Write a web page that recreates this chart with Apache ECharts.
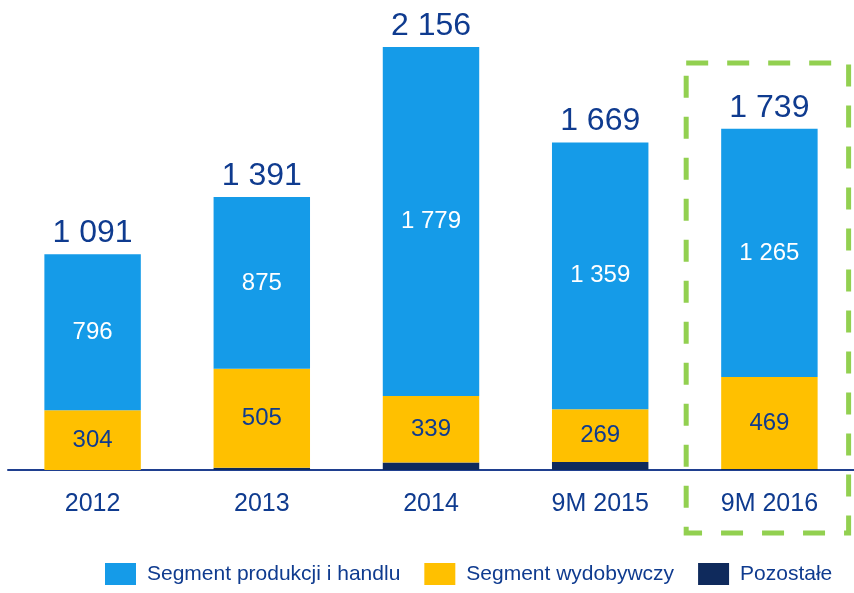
<!DOCTYPE html>
<html><head><meta charset="utf-8">
<script src="https://cdn.jsdelivr.net/npm/echarts@6/dist/echarts.min.js"></script>
<style>html,body{margin:0;padding:0;background:#fff}#c{width:854px;height:593px}</style>
</head><body><div id="c"></div>
<script>
const categories = ['2012', '2013', '2014', '9M 2015', '9M 2016'];
const pozostale = [0, 11, 38, 41, 5];
const wydobywczy = [304, 505, 339, 269, 469];
const produkcji = [796, 875, 1779, 1359, 1265];
const totals = [1091, 1391, 2156, 1669, 1739];

const fmt = v => String(v).replace(/\B(?=(\d{3})+(?!\d))/g, ' ');
const navy = '#0f3b8f';
const chart = echarts.init(document.getElementById('c'));
const FONT = '"Liberation Sans", Arial, sans-serif';
chart.setOption({
  animation: false,
  textStyle: { fontFamily: FONT },
  grid: { left: 8, right: 0, top: 47, bottom: 123 },
  legend: {
    data: ['Segment produkcji i handlu', 'Segment wydobywczy', 'Pozostałe'],
    left: 100, bottom: 3, itemWidth: 31, itemHeight: 22, itemGap: 24,
    icon: 'rect',
    textStyle: { fontSize: 21, color: navy, fontFamily: FONT, padding: [0, 0, 0, 6] }
  },
  xAxis: {
    type: 'category', data: categories,
    axisLine: { lineStyle: { color: '#1f3f8f', width: 2 } },
    axisTick: { show: false },
    axisLabel: { fontSize: 25, color: navy, margin: 22 }
  },
  yAxis: { type: 'value', min: 0, max: 2156, show: false, splitLine: { show: false } },
  series: [
    { name: 'Pozostałe', type: 'bar', stack: 's', barWidth: '57%', data: pozostale,
      itemStyle: { color: '#0f2a5c' } },
    { name: 'Segment wydobywczy', type: 'bar', stack: 's', data: wydobywczy,
      itemStyle: { color: '#ffc000' },
      label: { show: true, position: 'inside', fontSize: 24, color: navy, formatter: p => fmt(p.value) } },
    { name: 'Segment produkcji i handlu', type: 'bar', stack: 's', data: produkcji,
      itemStyle: { color: '#159be8' },
      label: { show: true, position: 'inside', fontSize: 24, color: '#fff', formatter: p => fmt(p.value) } },
    { name: 'Suma', type: 'bar', stack: 's', data: totals.map(() => 0), barWidth: '57%',
      label: { show: true, position: 'top', fontSize: 32, color: navy, distance: 5,
        formatter: p => fmt(totals[p.dataIndex]) }, tooltip: { show: false } }
  ]
});
// highlight box around last category
const c = chart.convertToPixel({ xAxisIndex: 0 }, categories[4]);
const step = c - chart.convertToPixel({ xAxisIndex: 0 }, categories[3]);
const half = step * 0.48;
chart.setOption({
  graphic: [{
    type: 'rect', silent: true,
    shape: { x: c - half - 2, y: 63, width: half * 2, height: 470 },
    style: { fill: 'none', stroke: '#92d050', lineWidth: 5, lineDash: [22, 19] }
  }]
});
</script></body></html>
